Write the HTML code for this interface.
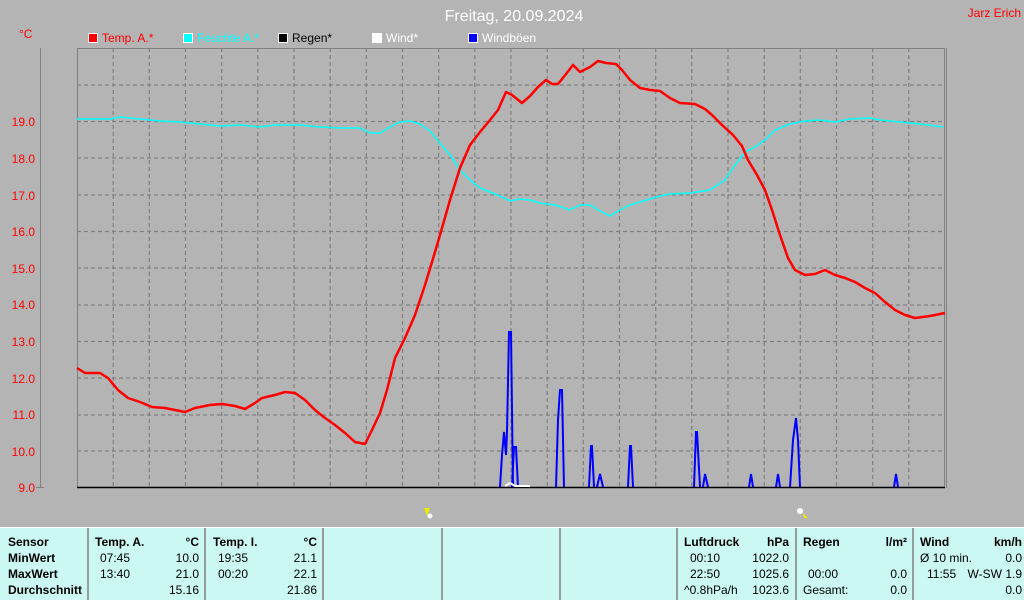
<!DOCTYPE html>
<html><head><meta charset="utf-8"><style>
body{margin:0;width:1024px;height:600px;background:#b4b4b4;overflow:hidden;font-family:"Liberation Sans",sans-serif;position:relative}
.t{position:absolute;font-size:12px;line-height:14px;color:#000;white-space:nowrap}
.b{font-weight:bold}
.r{text-align:right}
</style></head><body>
<svg width="1024" height="600" style="position:absolute;left:0;top:0" font-family="Liberation Sans, sans-serif">
<text x="514" y="21" font-size="16" fill="#fff" text-anchor="middle">Freitag, 20.09.2024</text>
<text x="1021" y="17" font-size="12" fill="#f00" text-anchor="end">Jarz Erich</text>
<text x="19" y="38" font-size="12" fill="#f00">°C</text>
<g font-size="12">
<rect x="88.5" y="33.5" width="9" height="9" fill="#f00" stroke="#fff"/><text x="102" y="42" fill="#f00">Temp. A.*</text>
<rect x="183.5" y="33.5" width="9" height="9" fill="#0ff" stroke="#fff"/><text x="197" y="42" fill="#0ff">Feuchte A.*</text>
<rect x="278.5" y="33.5" width="9" height="9" fill="#000" stroke="#fff"/><text x="292" y="42" fill="#000">Regen*</text>
<rect x="372.5" y="33.5" width="9" height="9" fill="#fff" stroke="#fff"/><text x="386" y="42" fill="#fff">Wind*</text>
<rect x="468.5" y="33.5" width="9" height="9" fill="#00f" stroke="#fff"/><text x="482" y="42" fill="#fff">Windböen</text>
</g>
<line x1="40.5" y1="48" x2="40.5" y2="488" stroke="#808080"/>
<line x1="36" y1="487.5" x2="44" y2="487.5" stroke="#808080"/>
<g font-size="12" fill="#f00" text-anchor="end">
<text x="35" y="492">9.0</text><text x="35" y="456">10.0</text><text x="35" y="419">11.0</text><text x="35" y="383">12.0</text><text x="35" y="346">13.0</text><text x="35" y="309">14.0</text><text x="35" y="273">15.0</text><text x="35" y="236">16.0</text><text x="35" y="200">17.0</text><text x="35" y="163">18.0</text><text x="35" y="126">19.0</text>
</g>
<g stroke="#808080" stroke-dasharray="4,3" stroke-width="1.2">
<line x1="77" y1="85" x2="945" y2="85"/><line x1="77" y1="121.5" x2="945" y2="121.5"/><line x1="77" y1="158" x2="945" y2="158"/><line x1="77" y1="195" x2="945" y2="195"/><line x1="77" y1="231.5" x2="945" y2="231.5"/><line x1="77" y1="268" x2="945" y2="268"/><line x1="77" y1="305" x2="945" y2="305"/><line x1="77" y1="341.5" x2="945" y2="341.5"/><line x1="77" y1="378" x2="945" y2="378"/><line x1="77" y1="415" x2="945" y2="415"/><line x1="77" y1="451" x2="945" y2="451"/>
<path d="M113.2 48V487M149.3 48V487M185.5 48V487M221.7 48V487M257.8 48V487M294 48V487M330.2 48V487M366.3 48V487M402.5 48V487M438.7 48V487M474.8 48V487M511 48V487M547.2 48V487M583.3 48V487M619.5 48V487M655.7 48V487M691.8 48V487M728 48V487M764.2 48V487M800.3 48V487M836.5 48V487M872.7 48V487M908.8 48V487"/>
</g>
<rect x="77.5" y="48.5" width="867" height="439" fill="none" stroke="#808080"/>
<line x1="946.5" y1="48" x2="946.5" y2="488" stroke="#808080"/>
<line x1="77" y1="487.5" x2="945" y2="487.5" stroke="#000" stroke-width="1.5"/>
<polyline fill="none" stroke="#0ff" stroke-width="1.5" points="77,119 110,119 120,117 140,119 160,121 180,122 200,124 220,126 240,125 260,127 275,125 300,125 320,127 340,128 360,128 370,133 380,133 390,127 400,122 410,121 420,124 430,131 440,143 450,155 460,170 470,180 480,188 490,192 500,196 510,201 520,199 530,200 540,203 555,205 570,210 580,205 590,205 600,211 610,216 620,210 630,205 640,202 650,199 660,196 670,194 690,193 710,190 725,180 735,165 745,152 755,147 765,140 775,130 790,124 805,121 820,120 835,122 850,119 870,118 880,120 900,122 920,124 943,127"/>
<g fill="none" stroke="#00f" stroke-width="2">
<polyline points="500,487 502,455 504,432 506,455 507,432 509,332 511,332 513,487"/>
<polyline points="512,487 514,447 516,447 518,487"/>
<polyline points="556,487 558,420 560,390 562,390 564,487"/>
<polyline points="589,487 591,446 592,446 594,487"/>
<polyline points="597,487 600,474 603,487"/>
<polyline points="628,487 630,446 631,446 633,487"/>
<polyline points="694,487 696,432 697,432 700,487"/>
<polyline points="703,487 705,474 708,487"/>
<polyline points="749,487 751,474 753,487"/>
<polyline points="776,487 778,474 780,487"/>
<polyline points="790,487 793,440 796,418 798,440 800,487"/>
<polyline points="894,487 896,474 898,487"/>
</g>
<polyline fill="none" stroke="#fff" stroke-width="2" points="505,486 510,483 515,486 530,486"/>
<polyline fill="none" stroke="#f00" stroke-width="2.5" stroke-linejoin="round" points="77,368 85,373 100,373 108,378 118,390 128,398 140,402 152,407 165,408 175,410 185,412 195,408 210,405 222,404 235,406 245,409 255,403 262,398 275,395 285,392 295,393 305,400 315,410 325,418 335,425 345,433 355,442 365,444 372,430 380,413 387,390 395,358 405,338 415,315 425,285 432,262 440,235 450,200 460,168 470,145 480,132 490,120 498,110 506,92 512,95 522,103 530,96 538,87 546,80 552,84 558,84 566,74 573,65 580,72 590,67 598,61 606,63 616,64 622,70 630,80 640,88 650,90 660,91 670,98 680,103 695,104 705,109 712,115 722,125 733,135 742,146 748,160 757,175 765,190 772,210 780,235 788,258 795,270 805,275 815,274 825,270 835,275 845,278 855,282 865,288 875,293 885,302 895,310 905,315 915,318 930,316 945,313"/>
<g><polygon points="424,508 430,508 427,516" fill="#ee0"/><circle cx="430" cy="516" r="2.5" fill="#fff"/>
<circle cx="800" cy="511" r="3" fill="#fff"/><polygon points="803,513 808,518 804,518" fill="#ee0"/></g>
<rect x="0" y="527" width="1024" height="73" fill="#ccf8f4"/>
<line x1="0" y1="527.5" x2="1024" y2="527.5" stroke="#fff"/>
<g stroke="#808080" stroke-width="1.5"><path d="M88 528V600M205 528V600M323 528V600M442 528V600M560 528V600M677 528V600M796 528V600M913 528V600"/></g>
</svg>
<div class="t b" style="left:8px;top:535px">Sensor</div>
<div class="t b" style="left:8px;top:551px">MinWert</div>
<div class="t b" style="left:8px;top:567px">MaxWert</div>
<div class="t b" style="left:8px;top:583px">Durchschnitt</div>
<div class="t b" style="left:95px;top:535px">Temp. A.</div><div class="t b r" style="left:150px;width:49px;top:535px">°C</div>
<div class="t" style="left:100px;top:551px">07:45</div><div class="t r" style="left:150px;width:49px;top:551px">10.0</div>
<div class="t" style="left:100px;top:567px">13:40</div><div class="t r" style="left:150px;width:49px;top:567px">21.0</div>
<div class="t r" style="left:150px;width:49px;top:583px">15.16</div>
<div class="t b" style="left:213px;top:535px">Temp. I.</div><div class="t b r" style="left:268px;width:49px;top:535px">°C</div>
<div class="t" style="left:218px;top:551px">19:35</div><div class="t r" style="left:268px;width:49px;top:551px">21.1</div>
<div class="t" style="left:218px;top:567px">00:20</div><div class="t r" style="left:268px;width:49px;top:567px">22.1</div>
<div class="t r" style="left:268px;width:49px;top:583px">21.86</div>
<div class="t b" style="left:684px;top:535px">Luftdruck</div><div class="t b r" style="left:740px;width:49px;top:535px">hPa</div>
<div class="t" style="left:690px;top:551px">00:10</div><div class="t r" style="left:740px;width:49px;top:551px">1022.0</div>
<div class="t" style="left:690px;top:567px">22:50</div><div class="t r" style="left:740px;width:49px;top:567px">1025.6</div>
<div class="t" style="left:684px;top:583px">^0.8hPa/h</div><div class="t r" style="left:740px;width:49px;top:583px">1023.6</div>
<div class="t b" style="left:803px;top:535px">Regen</div><div class="t b r" style="left:857px;width:50px;top:535px">l/m²</div>
<div class="t" style="left:808px;top:567px">00:00</div><div class="t r" style="left:857px;width:50px;top:567px">0.0</div>
<div class="t" style="left:803px;top:583px">Gesamt:</div><div class="t r" style="left:857px;width:50px;top:583px">0.0</div>
<div class="t b" style="left:920px;top:535px">Wind</div><div class="t b r" style="left:960px;width:62px;top:535px">km/h</div>
<div class="t" style="left:920px;top:551px">Ø 10 min.</div><div class="t r" style="left:960px;width:62px;top:551px">0.0</div>
<div class="t" style="left:927px;top:567px">11:55</div><div class="t r" style="left:960px;width:62px;top:567px">W-SW 1.9</div>
<div class="t r" style="left:960px;width:62px;top:583px">0.0</div>
</body></html>
